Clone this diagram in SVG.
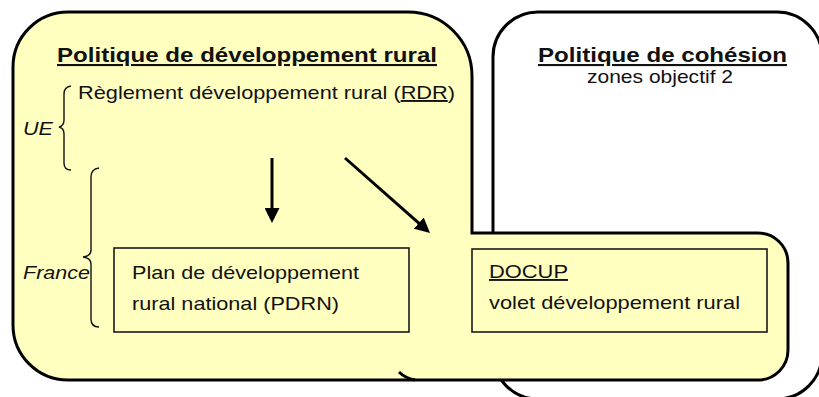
<svg xmlns="http://www.w3.org/2000/svg" width="819" height="397" viewBox="0 0 819 397">
  <style>
    text { font-family: "Liberation Sans", Arial, Helvetica, sans-serif; fill: #111; }
    .title { font-size: 21px; font-weight: bold; text-decoration: underline; }
    .body { font-size: 19px; }
    .side { font-size: 19px; font-style: italic; }
    .u { text-decoration: underline; }
    .frame { stroke: #000; stroke-width: 3; }
    .box { fill: none; stroke: #1a1a1a; stroke-width: 1.6; }
    .brace { fill: none; stroke: #111; stroke-width: 1.4; }
    .conn { stroke: #000; stroke-width: 3; fill: none; }
  </style>
  <defs>
    <marker id="head" markerUnits="userSpaceOnUse" markerWidth="16" markerHeight="15" refX="5" refY="7.5" orient="auto">
      <path d="M0,0 L15,7.5 L0,15 Z" fill="#000"/>
    </marker>
  </defs>

  <!-- cohesion policy area (white, behind) -->
  <g id="cohesion-policy">
    <rect class="frame" x="493" y="12" width="329" height="387" rx="45" ry="45" fill="#fff"/>
    <text class="title" x="538" y="62" textLength="249" lengthAdjust="spacingAndGlyphs">Politique de cohésion</text>
    <text class="body" x="587" y="83" textLength="146" lengthAdjust="spacingAndGlyphs">zones objectif 2</text>
  </g>

  <!-- rural development policy area (yellow, with extension into the cohesion area) -->
  <g id="rural-policy">
    <path class="frame" fill="#FFFFC0" d="M13,67 A55,55 0 0 1 68,12 L408,12 A64,64 0 0 1 472,76 L472,233 L758,233 A30,30 0 0 1 788,263 L788,350 A30,30 0 0 1 758,380 L68,380 A55,55 0 0 1 13,325 Z"/>
    <path class="frame" fill="none" d="M399,372 Q405,378 415,380"/>
    <text class="title" x="57" y="62" textLength="380" lengthAdjust="spacingAndGlyphs">Politique de développement rural</text>
    <text class="body" x="78" y="99" textLength="377" lengthAdjust="spacingAndGlyphs">Règlement développement rural (<tspan class="u">RDR</tspan>)</text>
  </g>

  <!-- level labels -->
  <g id="level-ue">
    <path class="brace" d="M71,86 Q64,87 64,94 L64,120 Q64,126 59,127 Q64,128 64,134 L64,163 Q64,170 71,170"/>
    <text class="side" x="23" y="135" textLength="30" lengthAdjust="spacingAndGlyphs">UE</text>
  </g>
  <g id="level-france">
    <path class="brace" d="M99,168 Q91,169 91,177 L91,250 Q91,256 83,257 Q91,258 91,264 L91,319 Q91,327 99,327"/>
    <text class="side" x="23" y="279" textLength="67" lengthAdjust="spacingAndGlyphs">France</text>
  </g>

  <!-- national rural development plan -->
  <g id="pdrn">
    <rect class="box" x="114" y="248" width="295" height="84"/>
    <text class="body" x="132" y="279" textLength="227" lengthAdjust="spacingAndGlyphs">Plan de développement</text>
    <text class="body" x="132" y="310" textLength="207" lengthAdjust="spacingAndGlyphs">rural national (PDRN)</text>
  </g>

  <!-- DOCUP -->
  <g id="docup">
    <rect class="box" x="472" y="249" width="295" height="83"/>
    <text class="body u" x="489" y="278" textLength="79" lengthAdjust="spacingAndGlyphs">DOCUP</text>
    <text class="body" x="489" y="309" textLength="251" lengthAdjust="spacingAndGlyphs">volet développement rural</text>
  </g>

  <!-- connectors -->
  <g id="connectors">
    <line class="conn" x1="272" y1="158" x2="272" y2="213" marker-end="url(#head)"/>
    <line class="conn" x1="345" y1="158" x2="422.5" y2="226.4" marker-end="url(#head)"/>
  </g>
</svg>
